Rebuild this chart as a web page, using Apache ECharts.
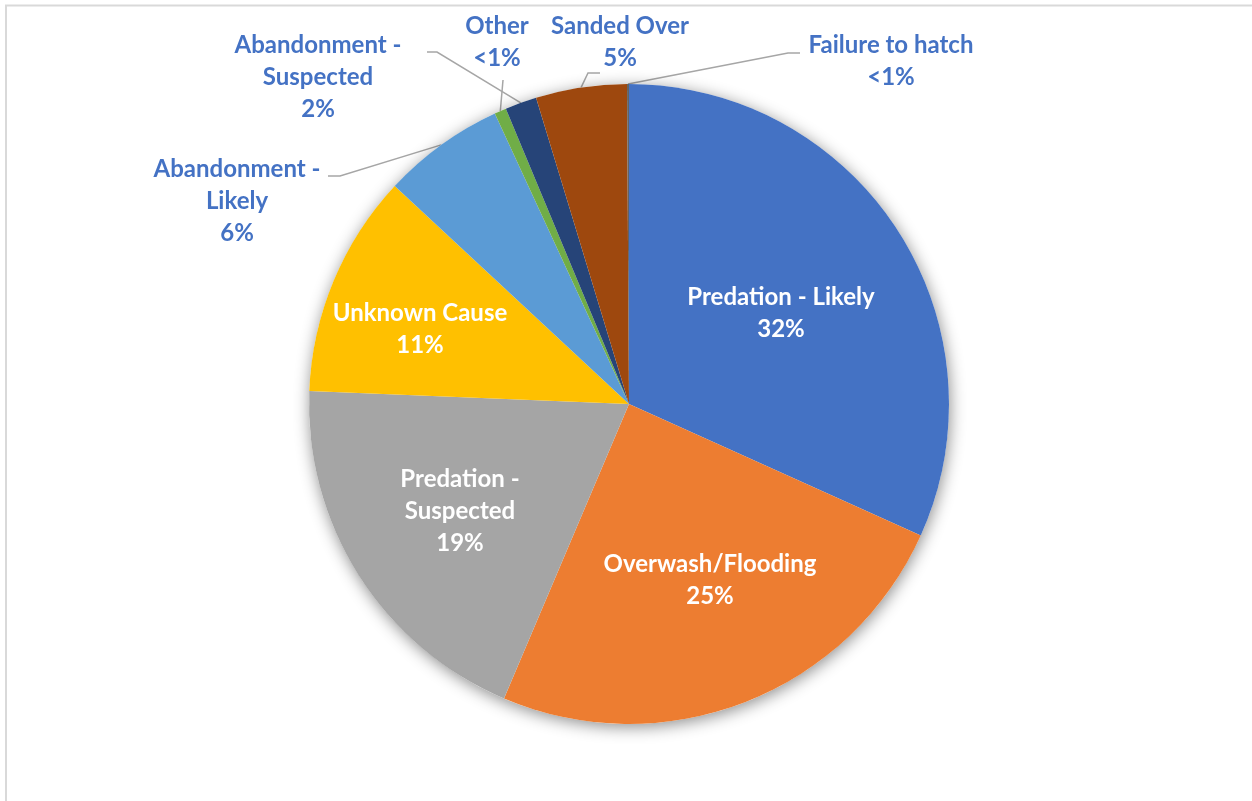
<!DOCTYPE html>
<html>
<head>
<meta charset="utf-8">
<script src="https://cdn.jsdelivr.net/npm/echarts@6/dist/echarts.min.js"></script>
<style>
    html, body { margin: 0; padding: 0; background: #fff; }
    #pieChart { width: 1252px; height: 801px; }
</style>
</head>
<body>
<div id="pieChart"></div>
<script>
// nest failure causes, clockwise from 12 o'clock
const categories = ['Predation - Likely', 'Overwash/Flooding', 'Predation - Suspected', 'Unknown Cause',
    'Abandonment - Likely', 'Other', 'Abandonment - Suspected', 'Sanded Over', 'Failure to hatch'];
const shares = [31.8, 24.7, 19.3, 11.3, 6.2, 0.6, 1.6, 4.6, 0.1];
const colors = ['#4472C4', '#ED7D31', '#A5A5A5', '#FFC000', '#5B9BD5', '#70AD47', '#264478', '#9E480E', '#636363'];

const CX = 629, CY = 404, R = 320;

// where Excel put each label (center of text block) and the leader line bends
const labelPos = [
    { x: 781, y: 313 },
    { x: 710, y: 580 },
    { x: 460, y: 511 },
    { x: 420, y: 329 },
    { x: 237, y: 201, line: [[340, 176], [328, 176]] },
    { x: 497, y: 42, line: [[503, 80], [503, 80]] },
    { x: 318, y: 77, line: [[437, 52], [427, 52]] },
    { x: 620, y: 42, line: [[588, 73], [600, 73]] },
    { x: 891, y: 61, line: [[788, 53], [800, 53]] }
];

const isInside = v => v >= 10;

let chart = echarts.init(document.getElementById('pieChart'));

let option = {
    backgroundColor: '#fff',
    animation: false,
    graphic: [{
        type: 'rect',
        shape: { x: 6, y: 5.5, width: 1400, height: 1000 },
        style: { fill: 'none', stroke: '#d9d9d9', lineWidth: 2 },
        silent: true
    }],
    series: [
        {
            // soft drop shadow under the whole pie
            type: 'pie',
            silent: true,
            center: [CX, CY],
            radius: R,
            label: { show: false },
            labelLine: { show: false },
            itemStyle: {
                color: '#fff',
                shadowBlur: 16,
                shadowColor: 'rgba(0,0,0,0.45)',
                shadowOffsetX: 1,
                shadowOffsetY: 3
            },
            data: [1]
        },
        {
            type: 'pie',
            center: [CX, CY],
            radius: R,
            startAngle: 90,
            clockwise: true,
            avoidLabelOverlap: false,
            label: {
                position: 'outside',
                fontFamily: 'Lato',
                fontWeight: 'bold',
                fontSize: 24,
                lineHeight: 32,
                align: 'center',
                formatter: p => {
                    let name = p.name.length > 18 ? p.name.replace(' - ', ' -\n') : p.name;
                    let pct = p.percent < 1 ? '<1%' : Math.round(p.percent) + '%';
                    return name + '\n' + pct;
                }
            },
            labelLine: {
                show: true,
                lineStyle: { color: '#a6a6a6', width: 1.5 }
            },
            labelLayout: params => {
                let pos = labelPos[params.dataIndex];
                let res = { x: pos.x, y: pos.y, align: 'center', verticalAlign: 'middle' };
                if (pos.line && params.labelLinePoints) {
                    res.labelLinePoints = [params.labelLinePoints[0], pos.line[0], pos.line[1]];
                }
                return res;
            },
            data: categories.map((name, i) => ({
                name: name,
                value: shares[i],
                itemStyle: { color: colors[i] },
                label: { color: isInside(shares[i]) ? '#fff' : '#4472C4' },
                labelLine: { show: !isInside(shares[i]) }
            }))
        }
    ]
};

option && chart.setOption(option);
</script>
</body>
</html>
